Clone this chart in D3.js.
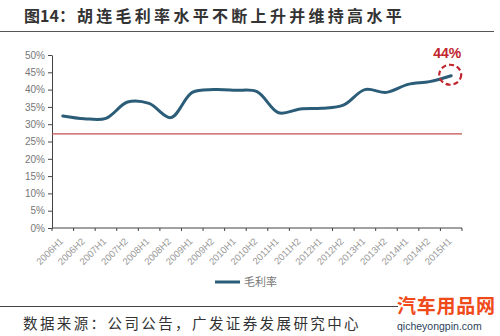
<!DOCTYPE html>
<html>
<head>
<meta charset="utf-8">
<script src="https://cdn.jsdelivr.net/npm/d3@7/dist/d3.min.js"></script>
<style>
  body { margin: 0; background: #fff; }
  svg { display: block; font-family: "Noto Sans CJK SC", "Liberation Sans", sans-serif; }
</style>
</head>
<body>
<svg id="chart" width="500" height="336"></svg>
<script>
// data
var periods = ["2006H1", "2006H2", "2007H1", "2007H2", "2008H1", "2008H2", "2009H1", "2009H2",
  "2010H1", "2010H2", "2011H1", "2011H2", "2012H1", "2012H2", "2013H1", "2013H2",
  "2014H1", "2014H2", "2015H1"];
var grossMargin = [32.4, 31.6, 31.7, 36.4, 36.0, 31.9, 39.2, 40.0, 39.8, 39.4, 33.3, 34.4,
  34.6, 35.5, 40.0, 39.2, 41.5, 42.3, 44.0];
var yTicks = [0, 5, 10, 15, 20, 25, 30, 35, 40, 45, 50];
var refLine = 27.2;
var seriesName = "毛利率";
var titleLead = "图14：";
var title = "胡连毛利率水平不断上升并维持高水平";
var source = "数据来源：公司公告，广发证券发展研究中心";

var svg = d3.select("#chart");
var plot = { left: 52, right: 462, top: 55, bottom: 228 };

var x = d3.scaleBand().domain(periods).range([plot.left, plot.right]);
var y = d3.scaleLinear().domain([0, 50]).range([plot.bottom, plot.top]);

// title + rules
var t = svg.append("text")
  .attr("x", 24).attr("y", 22)
  .attr("font-size", 16).attr("fill", "#333");
t.append("tspan").attr("font-weight", "bold").text(titleLead);
t.append("tspan").attr("dx", 2).attr("font-weight", "bold")
  .attr("letter-spacing", 3.3).text(title);
svg.append("line")
  .attr("x1", 0).attr("x2", 494).attr("y1", 31.5).attr("y2", 31.5)
  .attr("stroke", "#555").attr("stroke-width", 1);

// y axis
var yAxis = svg.append("g")
  .attr("transform", "translate(" + plot.left + ",0)")
  .call(d3.axisLeft(y).tickValues(yTicks).tickSize(4).tickSizeOuter(0)
    .tickFormat(function (d) { return d + "%"; }));
yAxis.selectAll("path, line").attr("stroke", "#444");
yAxis.selectAll("text").attr("fill", "#777").attr("font-size", 10)
  .attr("font-family", "Liberation Sans, sans-serif").attr("x", -7);

// x axis, ticks between categories
var xAxis = svg.append("g")
  .attr("transform", "translate(0," + plot.bottom + ")");
xAxis.append("line")
  .attr("x1", plot.left).attr("x2", plot.right)
  .attr("stroke", "#444");
xAxis.selectAll(".tick")
  .data(periods.concat(["end"]))
  .enter().append("line")
  .attr("class", "tick")
  .attr("x1", function (d, i) { return plot.left + i * x.bandwidth(); })
  .attr("x2", function (d, i) { return plot.left + i * x.bandwidth(); })
  .attr("y1", 0).attr("y2", 3)
  .attr("stroke", "#444");
xAxis.selectAll(".lbl")
  .data(periods)
  .enter().append("text")
  .attr("class", "lbl")
  .attr("transform", function (d) {
    return "translate(" + (x(d) + x.bandwidth() / 2 + 1) + ",14) rotate(-45)";
  })
  .attr("text-anchor", "end")
  .attr("font-size", 9.5)
  .attr("font-family", "Liberation Sans, sans-serif")
  .attr("fill", "#999")
  .text(function (d) { return d; });

// reference line
svg.append("line")
  .attr("x1", plot.left).attr("x2", plot.right)
  .attr("y1", y(refLine)).attr("y2", y(refLine))
  .attr("stroke", "#c0504d").attr("stroke-width", 1.3);

// series
var line = d3.line()
  .x(function (d, i) { return x(periods[i]) + x.bandwidth() / 2; })
  .y(function (d) { return y(d); })
  .curve(d3.curveCatmullRom.alpha(0.5));
svg.append("path")
  .datum(grossMargin)
  .attr("d", line)
  .attr("fill", "none")
  .attr("stroke", "#2b5d78")
  .attr("stroke-width", 3)
  .attr("stroke-linecap", "round");

// highlight last point
var last = periods.length - 1;
var lx = x(periods[last]) + x.bandwidth() / 2;
var ly = y(grossMargin[last]);
svg.append("ellipse")
  .attr("cx", lx - 1).attr("cy", ly - 1)
  .attr("rx", 11).attr("ry", 10)
  .attr("fill", "none").attr("stroke", "#c0242c")
  .attr("stroke-width", 2.2).attr("stroke-dasharray", "5,3");
svg.append("text")
  .attr("x", lx - 4).attr("y", ly - 18)
  .attr("text-anchor", "middle")
  .attr("font-size", 14).attr("font-weight", "bold")
  .attr("font-family", "Liberation Sans, sans-serif")
  .attr("fill", "#c0242c")
  .text(Math.round(grossMargin[last]) + "%");

// legend
svg.append("line")
  .attr("x1", 215).attr("x2", 240).attr("y1", 282).attr("y2", 282)
  .attr("stroke", "#2b5d78").attr("stroke-width", 3);
svg.append("text")
  .attr("x", 244).attr("y", 286)
  .attr("font-size", 11).attr("fill", "#777")
  .text(seriesName);

// footer
svg.append("line")
  .attr("x1", 0).attr("x2", 398).attr("y1", 306.5).attr("y2", 306.5)
  .attr("stroke", "#444").attr("stroke-width", 1);
svg.append("text")
  .attr("x", 23).attr("y", 329)
  .attr("font-size", 14.5).attr("fill", "#333")
  .attr("letter-spacing", 2.4)
  .text(source);
svg.append("text")
  .attr("x", 397).attr("y", 313)
  .attr("font-size", 19).attr("font-weight", "bold").attr("fill", "#f04a1a")
  .attr("textLength", 98)
  .text("汽车用品网");
svg.append("text")
  .attr("x", 397).attr("y", 330)
  .attr("font-size", 10.5).attr("fill", "#2a3f5a")
  .attr("font-family", "Liberation Sans, sans-serif")
  .text("qicheyongpin.com");
</script>
</body>
</html>
